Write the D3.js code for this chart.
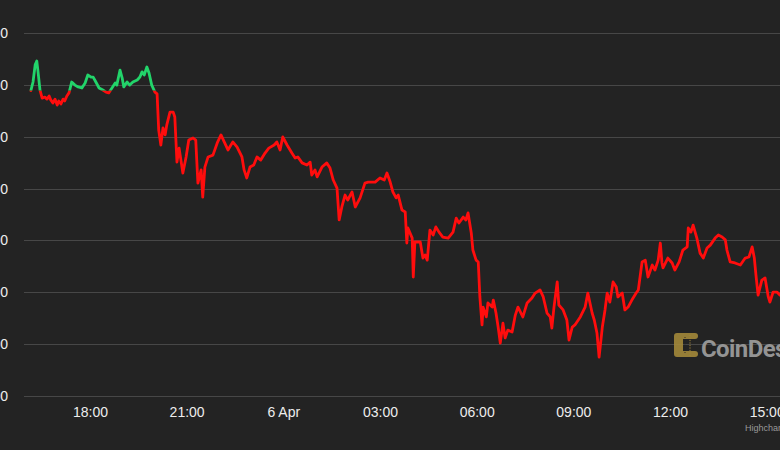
<!DOCTYPE html>
<html>
<head>
<meta charset="utf-8">
<script src="https://cdn.jsdelivr.net/npm/d3@7"></script>
<style>
html,body{margin:0;padding:0;background:#232323;overflow:hidden;}
svg{display:block;}
</style>
</head>
<body>
<svg id="chart" width="780" height="450"></svg>
<script>
// Minutes since 2025-04-05 00:00 UTC
const minutes = [970,974,978,981,983,987,991,996,1000,1004,1007,1011,1015,1019,1022,1026,1030,1033,1037,1041,1046,1052,1058,1065,1071,1076,1082,1086,1091,1097,1104,1110,1115,1121,1127,1130,1136,1140,1143,1149,1154,1160,1168,1173,1177,1181,1186,1190,1195,1201,1205,
1208,1212,1216,1220,1223,1229,1235,1238,1242,1246,1253,1259,1264,1272,1277,1281,1287,1290,1294,1300,1309,1317,1324,1330,1337,1346,1354,1363,1367,1372,1378,1385,1391,1398,1406,1413,1423,1428,1434,1439,1447,
1456,1462,1467,1475,1484,1490,1493,1499,1503,1512,1521,1527,1533,1540,1544,1549,1555,1560,1568,1574,1583,1592,1598,1611,1620,1628,1633,1639,1644,1650,1654,1661,1667,1670,1672,1680,1682,1685,
1695,1700,1704,1708,1713,1719,1724,1730,1737,1747,1756,1762,1767,1775,1780,1784,1790,1793,1799,1803,1806,1810,1812,1818,1821,1829,1831,1836,1840,1844,1849,1853,1858,1866,1872,1877,1886,1894,1903,1909,1918,
1924,1931,1937,1940,1944,1950,1953,1961,1968,1972,1978,1983,1993,2002,2007,2015,2019,2024,2028,2034,2039,2043,2048,2054,2060,2063,2071,2076,2082,2089,2097,2101,2108,2114,2119,2127,2132,
2138,2142,2145,2147,2156,2164,2169,2177,2184,2192,2194,2199,2203,2210,2216,2222,2229,2235,2244,2250,2257,2263,2266,2272,2281,2291,2300,2307,2313,2317,2320,2324,2331,2337,2343,2346,2352,2359,2365,2372];

const prices = [83978,84011,84077,84092,84057,83980,83949,83953,83945,83957,83942,83930,83945,83922,83938,83926,83945,83938,83957,83969,84011,83999,83992,83988,84007,84038,84030,84030,84011,83988,83980,83972,83969,83988,84007,83999,84057,84026,83992,84011,83999,84011,84019,84030,84050,84038,84069,84046,83999,83972,83965,
83826,83768,83834,83807,83845,83895,83895,83876,83702,83756,83660,83722,83787,83795,83787,83621,83672,83567,83683,83722,83729,83776,83807,83780,83749,83780,83760,83722,83672,83641,83683,83691,83722,83710,83737,83756,83768,83780,83749,83799,83768,
83737,83718,83722,83699,83691,83702,83652,83672,83645,83683,83699,83679,83633,83602,83479,83529,83575,83556,83587,83529,83564,83621,83625,83625,83641,83633,83660,83625,83587,83564,83575,83517,83510,83390,83448,83409,83259,83394,
83394,83332,83344,83324,83440,83421,83452,83432,83413,83409,83432,83486,83467,83490,83479,83506,83429,83363,83324,83317,83182,83074,83143,83105,83159,83143,83170,83120,83066,83004,83081,83024,83054,83047,83112,83143,83105,83159,83178,83197,83209,
83182,83120,83105,83062,83143,83240,83151,83132,83093,83016,83066,83074,83105,83143,83197,83120,83093,83043,82950,83066,83132,83197,83162,83240,83220,83182,83197,83132,83143,83170,83197,83209,83317,83324,83259,83305,83286,
83324,83390,83313,83294,83332,83313,83286,83317,83363,83375,83448,83432,83459,83409,83351,83332,83371,83382,83409,83421,83413,83402,83363,83317,83313,83305,83332,83336,83375,83332,83267,83189,83247,83255,83182,83162,83201,83201,83189,83178];

const yTicks = [82800,83000,83200,83400,83600,83800,84000,84200];
const xDomain = ["2025-04-05T16:00Z","2025-04-06T16:00Z"];

const base = Date.UTC(2025,3,5);
const data = minutes.map((m,i)=>({t:new Date(base+m*60000), v:prices[i]}));

const svg = d3.select("#chart");
const W = 780, H = 450;
const plotLeft = 24, plotRight = 800;

const x = d3.scaleUtc().domain(xDomain.map(d=>new Date(d))).range([25.5, 798.9]);
const y = d3.scaleLinear().domain([82800,84200]).range([396,33]);

svg.append("rect").attr("width",W).attr("height",H).attr("fill","#232323");

// grid
const grid = svg.append("g");
grid.selectAll("line").data(yTicks).join("line")
  .attr("x1",plotLeft).attr("x2",plotRight)
  .attr("y1",d=>Math.round(y(d))+0.5).attr("y2",d=>Math.round(y(d))+0.5)
  .attr("stroke","#474747").attr("stroke-width",1);

// y labels (the reference crops them at the left edge)
svg.append("g").selectAll("text").data(yTicks).join("text")
  .attr("x",8).attr("y",d=>y(d)+5)
  .attr("text-anchor","end")
  .attr("fill","#ededed")
  .style("font","14px 'Liberation Sans', Arial, sans-serif")
  .text(d=>d3.format(",")(d));

// x axis labels
const fmt = d => d.getUTCHours()===0 ? d3.utcFormat("%-d %b")(d) : d3.utcFormat("%H:%M")(d);
const xAxis = d3.axisBottom(x).ticks(d3.utcHour.every(3)).tickFormat(fmt).tickSize(0).tickPadding(0);
const gx = svg.append("g").attr("transform","translate(0,407)").call(xAxis);
gx.select(".domain").remove();
gx.selectAll(".tick").filter(d=>+d===+x.domain()[0]).remove();
gx.selectAll("text").attr("fill","#ededed").attr("dy","0.71em")
  .style("font","14px 'Liberation Sans', Arial, sans-serif");

// watermark
const wm = svg.append("g").attr("transform","translate(674,333)");
const gold = "#a3883a";
const logoPath = "M3,0 H21 a3,3 0 0 1 0,6 H9 V18 H21 a3,3 0 0 1 0,6 H3 a3,3 0 0 1 -3,-3 V3 a3,3 0 0 1 3,-3 Z";
wm.append("path").attr("d",logoPath).attr("fill",gold).attr("opacity",0.9);
[2,4.5,7,9.5,12,14.5,17,19.5,22].forEach(dy=>{
  wm.append("circle").attr("cx",16).attr("cy",dy+0.5).attr("r",0.8).attr("fill",gold).attr("opacity",0.7);
});
[4.5,7,9.5,12,14.5,17,19.5].forEach(dy=>{
  wm.append("circle").attr("cx",11).attr("cy",dy).attr("r",0.6).attr("fill","#232323");
});
svg.append("text").attr("x",701).attr("y",357)
  .attr("fill","#949494")
  .style("font","bold 24px Roboto, 'Liberation Sans', sans-serif")
  .attr("letter-spacing","-0.6")
  .text("CoinDesk");

// line with zones
const thr = y(prices[0]);
const defs = svg.append("defs");
defs.append("clipPath").attr("id","above").append("rect")
  .attr("x",0).attr("y",0).attr("width",W).attr("height",thr);
defs.append("clipPath").attr("id","below").append("rect")
  .attr("x",0).attr("y",thr).attr("width",W).attr("height",H-thr);

const line = d3.line().x(d=>x(d.t)).y(d=>y(d.v));
svg.append("path").datum(data).attr("d",line)
  .attr("fill","none").attr("stroke","#ff0d0d").attr("stroke-width",2.8)
  .attr("stroke-linejoin","round").attr("stroke-linecap","round")
  .attr("clip-path","url(#below)");
svg.append("path").datum(data).attr("d",line)
  .attr("fill","none").attr("stroke","#22d46a").attr("stroke-width",2.8)
  .attr("stroke-linejoin","round").attr("stroke-linecap","round")
  .attr("clip-path","url(#above)");

// credits
svg.append("text").attr("x",745).attr("y",431)
  .attr("fill","#999")
  .style("font","9px 'Liberation Sans', Arial, sans-serif")
  .text("Highcharts.com");
</script>
</body>
</html>
